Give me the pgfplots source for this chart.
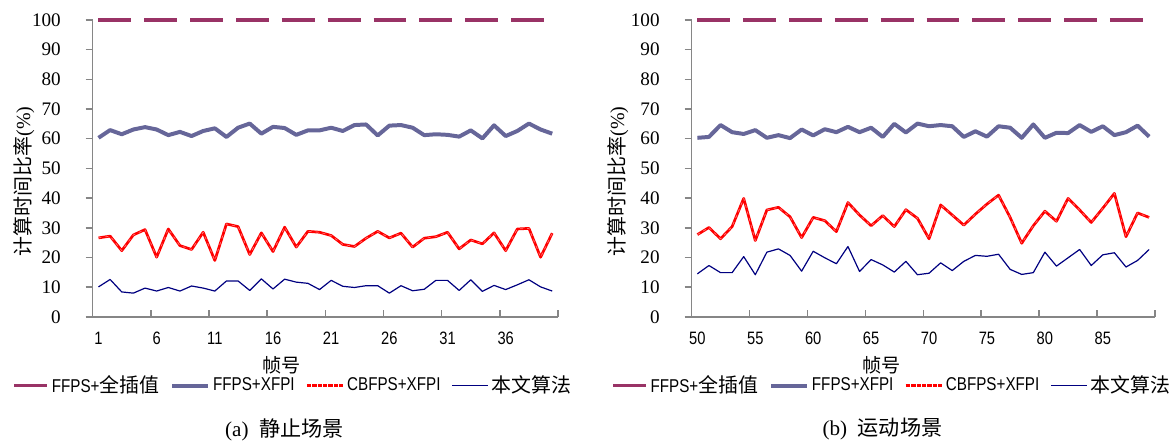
\documentclass[border=0pt]{standalone}
\usepackage{pgfplots}
\pgfplotsset{compat=1.18}
\usepackage{pgfplotstable}
\usepackage{fontspec}
\setmainfont{Liberation Serif}
\newfontfamily\cjk{Noto Sans CJK SC}
\newfontfamily\lat{Liberation Sans}[FakeStretch=0.82]
\newcommand\yt{\fontsize{9.6}{10}\selectfont}
\newcommand\xt{\lat\fontsize{9}{10}\selectfont}
\newcommand\lc{\cjk\fontsize{10}{10}\selectfont}
\definecolor{cFull}{HTML}{993366}
\definecolor{cX}{HTML}{666699}
\definecolor{cRed}{HTML}{FF0000}
\definecolor{cOurs}{HTML}{000080}
\definecolor{axgray}{HTML}{868686}

\pgfplotstableread{
x full xfpi cb ours
1 100 60.3 26.6 10.1
2 100 62.9 27.2 12.6
3 100 61.5 22.3 8.4
4 100 63.1 27.6 8.0
5 100 63.9 29.4 9.7
6 100 63.1 20.1 8.7
7 100 61.2 29.6 9.9
8 100 62.3 24.0 8.7
9 100 60.9 22.7 10.4
10 100 62.6 28.5 9.7
11 100 63.5 19.0 8.7
12 100 60.6 31.3 12.1
13 100 63.7 30.4 12.1
14 100 65.1 21.0 8.9
15 100 61.7 28.3 12.8
16 100 64.0 22.0 9.4
17 100 63.6 30.2 12.7
18 100 61.3 23.5 11.7
19 100 62.8 28.8 11.3
20 100 62.8 28.5 9.2
21 100 63.7 27.4 12.3
22 100 62.6 24.4 10.3
23 100 64.6 23.7 9.9
24 100 64.8 26.5 10.5
25 100 61.1 28.8 10.5
26 100 64.4 26.6 8.0
27 100 64.6 28.2 10.5
28 100 63.7 23.5 8.8
29 100 61.2 26.5 9.3
30 100 61.5 27.0 12.3
31 100 61.3 28.5 12.3
32 100 60.7 22.9 8.9
33 100 62.8 25.9 12.5
34 100 60.1 24.6 8.6
35 100 64.5 28.3 10.6
36 100 60.9 22.3 9.2
37 100 62.6 29.6 10.8
38 100 65.1 29.8 12.5
39 100 63.1 20.1 10.1
40 100 61.7 28.2 8.7
}\staticdata

\pgfplotstableread{
x full xfpi cb ours
50 100 60.3 27.7 14.5
51 100 60.6 30.1 17.3
52 100 64.6 26.3 14.9
53 100 62.2 30.4 14.9
54 100 61.6 39.9 20.3
55 100 62.9 25.7 14.2
56 100 60.3 36.0 21.8
57 100 61.2 36.9 22.9
58 100 60.2 33.7 20.7
59 100 63.1 26.7 15.4
60 100 61.1 33.5 22.1
61 100 63.2 32.4 19.9
62 100 62.2 28.7 17.9
63 100 64.0 38.5 23.7
64 100 62.2 34.3 15.3
65 100 63.7 30.7 19.3
66 100 60.6 34.1 17.5
67 100 65.0 30.4 15.1
68 100 62.1 36.1 18.7
69 100 65.1 33.2 14.2
70 100 64.2 26.3 14.7
71 100 64.6 37.7 18.2
72 100 64.2 34.3 15.6
73 100 60.6 30.9 18.7
74 100 62.5 34.6 20.7
75 100 60.7 38.0 20.4
76 100 64.2 41.0 21.1
77 100 63.7 33.5 16.0
78 100 60.3 24.8 14.3
79 100 64.8 30.7 14.9
80 100 60.3 35.6 21.8
81 100 62.0 32.2 17.1
82 100 61.9 39.9 19.9
83 100 64.6 36.0 22.7
84 100 62.3 31.8 17.3
85 100 64.2 36.6 20.9
86 100 61.2 41.6 21.6
87 100 62.2 27.0 16.8
88 100 64.4 35.0 19.0
89 100 60.7 33.5 22.7
}\movingdata

\pgfplotsset{
  myaxis/.style={
    scale only axis, height=149pt,
    ymin=0, ymax=100, ytick={0,10,...,100},
    axis x line*=bottom, axis y line*=left,
    axis line style={axgray, line width=0.75pt, -},
    every tick/.style={axgray, line width=0.75pt},
    xtick align=inside, ytick align=outside,
    major tick length=3.5pt,
    clip=false,
    /pgf/number format/assume math mode=true,
    yticklabel={\yt\pgfmathprintnumber{\tick}},
    yticklabel style={xshift=-9pt},
    xticklabel style={yshift=-4pt},
    xticklabels={},
    extra x tick style={major tick length=0pt},
    xlabel style={font=\cjk\fontsize{9.6}{10}\selectfont, anchor=center},
    ylabel style={font=\fontsize{10}{10}\selectfont, anchor=center},
    legend columns=4,
    legend cell align=left,
    legend style={draw=none, fill=none, anchor=west, inner sep=0pt,
      font=\fontsize{9.3}{10}\selectfont,
      /tikz/every even column/.append style={column sep=4pt},
      nodes={inner sep=1.5pt}},
    legend image code/.code={\draw[#1] (0pt,0pt) -- (18pt,0pt);},
  },
  sfull/.style={cFull, line width=1.7pt, dash pattern=on 16.5pt off 6.5pt,
    legend image code/.code={\draw[cFull, line width=1.7pt] (0pt,0pt) -- (16.5pt,0pt);}},
  sx/.style={cX, line width=2pt, line join=round},
  scb/.style={cRed, line width=1.35pt, line join=round,
    legend image code/.code={\draw[cRed, line width=1.35pt, dash pattern=on 2.2pt off 0.5pt] (0pt,0pt) -- (18pt,0pt);}},
  scbw/.style={white, opacity=0.45, line width=0.35pt, dash pattern=on 1.5pt off 2pt, forget plot},
  sours/.style={cOurs, line width=0.6pt, line join=round},
}

\begin{document}
\begin{tikzpicture}
\begin{axis}[myaxis, width=233.5pt, at={(0pt,0pt)}, anchor=south west,
  xmin=0.5, xmax=40.5, xtick={0.5,5.5,...,40.5},
  extra x ticks={1,6,...,36}, extra x tick labels={\xt 1,\xt 6,\xt 11,\xt 16,\xt 21,\xt 26,\xt 31,\xt 36},
  xlabel={帧号}, xlabel style={at={(axis description cs:0.405,-0.164)}},
  ylabel={{\cjk 计算时间比率}(\%)}, ylabel style={at={(axis description cs:-0.148,0.456)}},
  legend style={at={(axis description cs:-0.173,-0.2315)}},
]
\addplot[sfull] table[x=x,y=full] {\staticdata};
\addlegendentry{{\lat FFPS+}{\lc 全插值}}
\addplot[sx] table[x=x,y=xfpi] {\staticdata};
\addlegendentry{{\lat FFPS+XFPI}}
\addplot[scb] table[x=x,y=cb] {\staticdata};
\addlegendentry{{\lat CBFPS+XFPI}}
\addplot[scbw] table[x=x,y=cb] {\staticdata};
\addplot[sours] table[x=x,y=ours] {\staticdata};
\addlegendentry{{\lc 本文算法}}
\node[font=\fontsize{10.6}{10}\selectfont] at (axis description cs:0.412,-0.379) {(a)\hspace{0.5em}{\cjk 静止场景}};
\end{axis}
\begin{axis}[myaxis, width=232.5pt, at={(300.5pt,0pt)}, anchor=south west,
  xmin=49.5, xmax=89.5, xtick={49.5,54.5,...,89.5},
  extra x ticks={50,55,...,85}, extra x tick labels={\xt 50,\xt 55,\xt 60,\xt 65,\xt 70,\xt 75,\xt 80,\xt 85},
  xlabel={帧号}, xlabel style={at={(axis description cs:0.41,-0.164)}},
  ylabel={{\cjk 计算时间比率}(\%)}, ylabel style={at={(axis description cs:-0.159,0.456)}},
  legend style={at={(axis description cs:-0.174,-0.2315)}},
]
\addplot[sfull] table[x=x,y=full] {\movingdata};
\addlegendentry{{\lat FFPS+}{\lc 全插值}}
\addplot[sx] table[x=x,y=xfpi] {\movingdata};
\addlegendentry{{\lat FFPS+XFPI}}
\addplot[scb] table[x=x,y=cb] {\movingdata};
\addlegendentry{{\lat CBFPS+XFPI}}
\addplot[scbw] table[x=x,y=cb] {\movingdata};
\addplot[sours] table[x=x,y=ours] {\movingdata};
\addlegendentry{{\lc 本文算法}}
\node[font=\fontsize{10.6}{10}\selectfont] at (axis description cs:0.412,-0.379) {(b)\hspace{0.5em}{\cjk 运动场景}};
\end{axis}
\path[use as bounding box] (-46.5pt,-62.5pt) rectangle (540pt,159pt);
\end{tikzpicture}
\end{document}
